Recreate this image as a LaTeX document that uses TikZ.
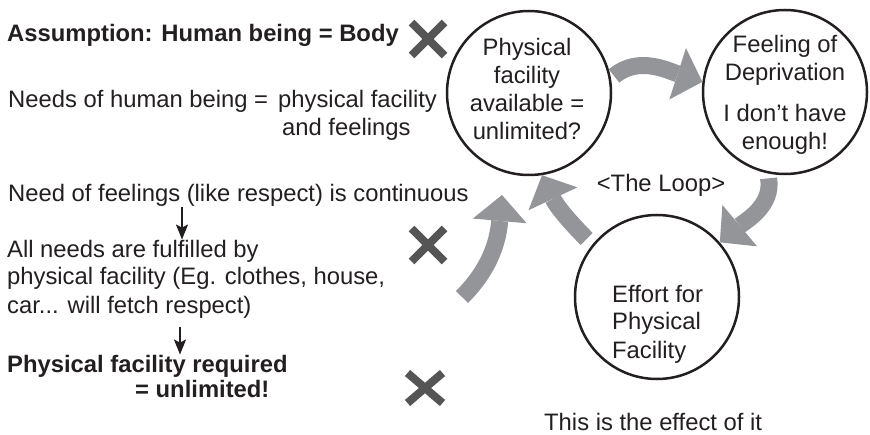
\documentclass[tikz,border=0pt]{standalone}
\usepackage{fontspec}
\setmainfont{Liberation Sans}
\usepackage{tikz}
\usetikzlibrary{arrows.meta,shapes.misc}

\definecolor{loopgray}{RGB}{148,149,153}
\definecolor{crossgray}{RGB}{85,85,85}
\definecolor{inkblack}{RGB}{35,31,32}

\begin{document}
\begin{tikzpicture}[x=1pt, y=1pt,
    every node/.style={inner sep=0pt, text=inkblack, font=\fontsize{23.8}{28}\selectfont},
    bold/.style={font=\fontsize{23.8}{28}\selectfont\bfseries},
    ring/.style={circle, draw=inkblack, line width=2.5pt, minimum size=164pt},
    loop arrow/.style={draw=loopgray, line width=17pt, -{Triangle[length=26pt, width=54pt, line width=0pt]}},
    flow/.style={draw=inkblack, line width=1.6pt, -{Stealth[length=15pt, width=12pt, inset=3pt]}},
    cross/.style={cross out, draw=crossgray, line width=8pt, minimum width=25pt, minimum height=25pt}]
  \useasboundingbox (0,0) rectangle (870,434);

  % left column
  \node[bold, anchor=base west] (assume) at (7,392) {Assumption: Human being = Body};
  \node[anchor=base west] (needs) at (8,326) {Needs of human being =};
  \node[anchor=base west, align=left] (needsR) at (278,298) {physical facility\\\hspace*{4pt}and feelings};
  \node[anchor=base west] (feel) at (8,232) {Need of feelings (like respect) is continuous};
  \node[anchor=base west, align=left] (allneeds) at (7,121) {All needs are fulfilled by\\physical facility (Eg. clothes, house,\\car... will fetch respect)};
  \node[bold, anchor=base west] (reqd) at (7,62) {Physical facility required};
  \node[bold, anchor=base west] (unlim) at (135,37) {= unlimited!};
  \draw[flow] (feel.south -| 182,0) -- (allneeds.north -| 182,0);
  \draw[flow, shorten <=9pt] (allneeds.south -| 180,0) -- (reqd.north -| 180,0);

  \node[cross] (x1) at (428,395) {};
  \node[cross] (x2) at (428,189) {};
  \node[cross, minimum width=27pt, minimum height=22pt] (x3) at (425,46) {};

  % the loop
  \node[ring] (phys) at (529,341) {};
  \node[ring] (depr) at (785,342) {};
  \node[ring] (effort) at (657,137) {};
  \node[align=center, anchor=base] (physT) at (527,294) {Physical\\facility\\available =\\unlimited?};
  \node[align=center, anchor=base] (deprT) at (785,284) {Feeling of\\Deprivation\\[13pt]I don’t have\\enough!};
  \node[align=left, anchor=base west] (effortT) at (612,76) {Effort for\\Physical\\Facility};
  \node[anchor=base] (loopT) at (661,242) {<The Loop>};
  \node[anchor=base west] (effectT) at (544,4) {This is the effect of it};

  \draw[loop arrow, shorten <=4pt] (phys.10) to[out=40, in=162] (depr.173);
  \draw[loop arrow, shorten <=5pt] (depr.-102) to[out=-80, in=40] (effort.41);
  \draw[loop arrow, shorten <=8pt] (effort.141) to[out=135, in=-65] (phys.-81);
  \coordinate (rise0) at (462,137);
  \coordinate (rise1) at (502,239);
  \draw[loop arrow] (rise0) to[out=45, in=-95] (rise1);
\end{tikzpicture}
\end{document}
